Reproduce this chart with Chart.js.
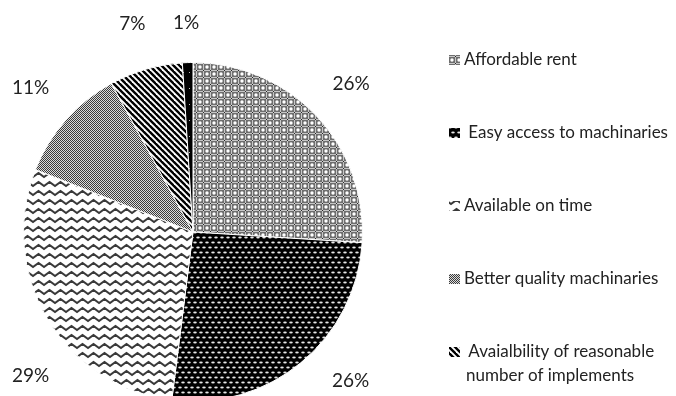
<!DOCTYPE html>
<html lang="en">
<head>
<meta charset="UTF-8" />
<title>Reasons for hiring machinery</title>
<script src="https://cdn.jsdelivr.net/npm/chart.js"></script>
<style>
  html, body { margin: 0; padding: 0; background: #fff; overflow: hidden; }
  #wrap { width: 676px; height: 396px; overflow: hidden; }
</style>
</head>
<body>
<div id="wrap"><canvas id="pieChart" width="676" height="402"></canvas></div>
<script>
const categories = [
  "Affordable rent",
  "Easy access to machinaries",
  "Available on time",
  "Better quality machinaries",
  "Avaialbility of reasonable number of implements",
  "Other"
];
const shares = [26, 26, 29, 11, 7, 1];
// legend text as it wraps on the right (the 1% slice has no entry)
const legendLines = [
  ["Affordable rent"],
  [" Easy access to machinaries"],
  ["Available on time"],
  ["Better quality machinaries"],
  [" Avaialbility of reasonable", "number of implements"]
];

const canvas = document.getElementById("pieChart");
const ctx = canvas.getContext("2d");
const textColor = "#222";

function tile(w, h, draw) {
  const c = document.createElement("canvas");
  c.width = w;
  c.height = h;
  draw(c.getContext("2d"), w, h);
  return ctx.createPattern(c, "repeat");
}

// grey grid with white spots
const plaid = tile(7, 7, (g) => {
  g.fillStyle = "#6e6e6e";
  g.fillRect(0, 0, 7, 7);
  g.fillStyle = "#c8c8c8";
  g.fillRect(0, 0, 7, 1);
  g.fillRect(0, 0, 1, 7);
  g.fillStyle = "#fff";
  g.beginPath();
  g.arc(4, 4, 1.7, 0, Math.PI * 2);
  g.fill();
  g.fillStyle = "#222";
  g.fillRect(0, 0, 1, 1);
});

// black with staggered white ovals
const blackDots = tile(6, 10, (g) => {
  g.fillStyle = "#000";
  g.fillRect(0, 0, 6, 10);
  g.fillStyle = "#e6e6e6";
  g.beginPath();
  g.ellipse(3, 2.5, 1.8, 1, 0, 0, Math.PI * 2);
  g.fill();
  g.beginPath();
  g.ellipse(0, 7.5, 1.8, 1, 0, 0, Math.PI * 2);
  g.ellipse(6, 7.5, 1.8, 1, 0, 0, Math.PI * 2);
  g.fill();
});

// zigzag waves
const zigzag = tile(11, 9, (g) => {
  g.fillStyle = "#fff";
  g.fillRect(0, 0, 11, 9);
  g.strokeStyle = "#3a3a3a";
  g.lineWidth = 1.9;
  g.beginPath();
  g.moveTo(-5.5, 2);
  g.lineTo(0, 6);
  g.lineTo(5.5, 2);
  g.lineTo(11, 6);
  g.lineTo(16.5, 2);
  g.stroke();
});

// fine checker
const checker = tile(2, 2, (g) => {
  g.fillStyle = "#dcdcdc";
  g.fillRect(0, 0, 2, 2);
  g.fillStyle = "#3c3c3c";
  g.fillRect(0, 0, 1, 1);
  g.fillRect(1, 1, 1, 1);
});

// diagonal stripes running top-left to bottom-right
const stripes = tile(6, 6, (g) => {
  g.fillStyle = "#fff";
  g.fillRect(0, 0, 6, 6);
  g.strokeStyle = "#000";
  g.lineWidth = 2.4;
  for (const o of [-6, 0, 6]) {
    g.beginPath();
    g.moveTo(o - 1, -1);
    g.lineTo(o + 7, 7);
    g.stroke();
  }
});

// solid black with sparse white dots
const blackSpeck = tile(6, 16, (g) => {
  g.fillStyle = "#000";
  g.fillRect(0, 0, 6, 16);
  g.fillStyle = "#bbb";
  g.fillRect(3, 8, 1, 1);
});

const fills = [plaid, blackDots, zigzag, checker, stripes, blackSpeck];

const pieText = {
  id: "pieText",
  afterDatasetsDraw(chart) {
    const c = chart.ctx;
    const meta = chart.getDatasetMeta(0);
    const maxY = 381;
    const topY = 23;
    c.save();
    c.fillStyle = textColor;

    // percentage labels outside the rim, kept inside the visible area
    c.font = "19px Lato";
    c.textAlign = "center";
    c.textBaseline = "middle";
    meta.data.forEach((arc, i) => {
      const p = arc.getProps(["x", "y", "startAngle", "endAngle", "outerRadius"], true);
      const mid = (p.startAngle + p.endAngle) / 2;
      const r = p.outerRadius * 1.28;
      const text = shares[i] + "%";
      const half = c.measureText(text).width / 2;
      const minX = half + 12;
      let x = p.x + Math.cos(mid) * r;
      let y = p.y + Math.sin(mid) * r;
      if (x < minX) {
        x = minX;
        const dx = x - p.x;
        y = p.y + Math.sign(Math.sin(mid)) * Math.sqrt(Math.max(r * r - dx * dx, 0));
      }
      if (y > maxY) {
        y = maxY;
        const dy = y - p.y;
        x = p.x + Math.sign(Math.cos(mid)) * Math.sqrt(Math.max(r * r - dy * dy, 0));
      }
      if (y < topY) y = topY;
      c.fillText(text, x, y);
    });

    // legend on the right
    c.font = "17px Lato";
    c.textAlign = "left";
    legendLines.forEach((lines, i) => {
      const y = 60 + i * 73;
      c.fillStyle = fills[i];
      c.fillRect(449, y - 5, 11, 10);
      c.fillStyle = textColor;
      lines.forEach((t, k) => {
        c.fillText(t, k === 0 ? 464 : 466, y + k * 24);
      });
    });
    c.restore();
  }
};

new Chart(ctx, {
  type: "pie",
  data: {
    labels: categories,
    datasets: [{
      data: shares,
      backgroundColor: fills,
      borderColor: "#fff",
      borderWidth: 1
    }]
  },
  options: {
    responsive: false,
    animation: false,
    devicePixelRatio: 1,
    layout: { padding: { left: 23, right: 313, top: 62, bottom: 0 } },
    plugins: {
      legend: { display: false },
      tooltip: { enabled: false }
    }
  },
  plugins: [pieText]
});
</script>
</body>
</html>
